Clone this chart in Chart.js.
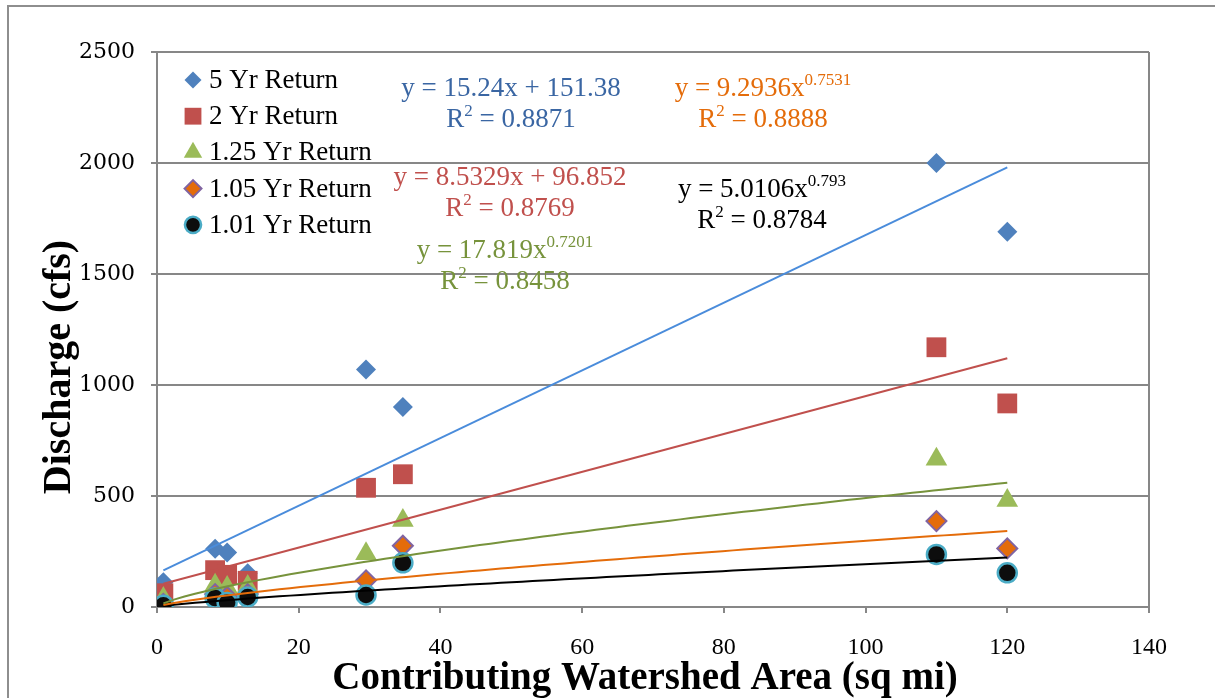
<!DOCTYPE html>
<html>
<head>
<meta charset="utf-8">
<title>Discharge vs Contributing Watershed Area</title>
<script src="https://cdn.jsdelivr.net/npm/chart.js@4.4.0/dist/chart.umd.min.js"></script>
<style>
  html, body { margin: 0; padding: 0; background: #fff; }
  #wrap { position: relative; width: 1215px; height: 698px; overflow: hidden; }
  #frame { position: absolute; left: 7px; top: 5px; width: 1300px; height: 800px;
           border: 2px solid #8e8e8e; pointer-events: none; }
</style>
</head>
<body>
<div id="wrap">
  <canvas id="chart" width="1215" height="698"></canvas>
  <div id="frame"></div>
</div>
<script>
// contributing watershed area of each gauge (sq mi)
const areas = [0.9, 8.2, 9.9, 12.8, 29.5, 34.7, 110, 120];

// discharge (cfs) per return period, same order as areas
const q5yr   = [112, 262, 245, 152, 1070, 901, 2000, 1690];
const q2yr   = [62, 166, 145, 118, 537, 598, 1170, 917];
const q125yr = [38, 98, 88, 92, 240, 390, 665, 480];
const q105yr = [14, 58, 45, 58, 120, 276, 387, 264];
const q101yr = [8, 40, 20, 45, 54, 199, 237, 154];

const seriesNames = ['5 Yr Return', '2 Yr Return', '1.25 Yr Return', '1.05 Yr Return', '1.01 Yr Return'];
const seriesValues = [q5yr, q2yr, q125yr, q105yr, q101yr];

// trendline fits (linear: y = a*x + b, power: y = a*x^b)
const fitTypes = ['linear', 'linear', 'power', 'power', 'power'];
const fitA = [15.24, 8.5329, 17.819, 9.2936, 5.0106];
const fitB = [151.38, 96.852, 0.7201, 0.7531, 0.793];
const fitR2 = ['0.8871', '0.8769', '0.8458', '0.8888', '0.8784'];

const xTickValues = [0, 20, 40, 60, 80, 100, 120, 140];
const yTickValues = [0, 500, 1000, 1500, 2000, 2500];

// look of each series
const markerStyle = [
  { pointStyle: 'rectRot', radius: 10, fill: '#4F81BD', stroke: '#4F81BD', width: 0 },
  { pointStyle: 'rect', radius: 14, fill: '#C0504D', stroke: '#C0504D', width: 0 },
  { pointStyle: 'triangle', radius: 12.5, fill: '#9BBB59', stroke: '#9BBB59', width: 0 },
  { pointStyle: 'rectRot', radius: 10, fill: '#E46C0A', stroke: '#8064A2', width: 2 },
  { pointStyle: 'circle', radius: 9.5, fill: '#0d0d0d', stroke: '#4BACC6', width: 2.5 }
];
const trendColors = ['#4A8CDB', '#C0504D', '#77933C', '#E46C0A', '#000000'];
const labelColors = ['#3A66A3', '#C0504D', '#77933C', '#E46C0A', '#000000'];
// equation label centre x, baseline of first line
const labelPos = [[511, 96], [510, 185], [505, 258], [763, 96], [762, 197]];

const GRID = '#878787';
const SERIF = '"Liberation Serif", "Times New Roman", serif';

function trendPoints(k) {
  const xmin = Math.min(...areas), xmax = Math.max(...areas);
  const pts = [];
  const n = fitTypes[k] === 'linear' ? 1 : 80;
  for (let i = 0; i <= n; i++) {
    const x = xmin + (xmax - xmin) * i / n;
    const y = fitTypes[k] === 'linear' ? fitA[k] * x + fitB[k] : fitA[k] * Math.pow(x, fitB[k]);
    pts.push({ x: x, y: y });
  }
  return pts;
}

const datasets = [];
seriesValues.forEach(function(vals, k) {
  const st = markerStyle[k];
  datasets.push({
    label: seriesNames[k],
    data: areas.map(function(x, i) { return { x: x, y: vals[i] }; }),
    showLine: false,
    pointStyle: st.pointStyle,
    pointRadius: st.radius,
    pointBackgroundColor: st.fill,
    pointBorderColor: st.stroke,
    pointBorderWidth: st.width,
    order: 10 - k
  });
});
seriesValues.forEach(function(vals, k) {
  datasets.push({
    label: seriesNames[k] + ' trend',
    data: trendPoints(k),
    showLine: true,
    pointRadius: 0,
    borderColor: trendColors[k],
    borderWidth: 2,
    tension: 0,
    order: 0
  });
});

function fmtEquation(k) {
  if (fitTypes[k] === 'linear') {
    return [['y = ' + fitA[k] + 'x + ' + fitB[k], false]];
  }
  return [['y = ' + fitA[k] + 'x', false], [String(fitB[k]), true]];
}

function drawRich(ctx, parts, cx, baseline, color) {
  const mainFont = '27px ' + SERIF;
  const supFont = '17px ' + SERIF;
  let w = 0;
  parts.forEach(function(p) {
    ctx.font = p[1] ? supFont : mainFont;
    w += ctx.measureText(p[0]).width;
  });
  let x = cx - w / 2;
  ctx.fillStyle = color;
  ctx.textAlign = 'left';
  ctx.textBaseline = 'alphabetic';
  parts.forEach(function(p) {
    ctx.font = p[1] ? supFont : mainFont;
    ctx.fillText(p[0], x, p[1] ? baseline - 11 : baseline);
    x += ctx.measureText(p[0]).width;
  });
}

const overlayPlugin = {
  id: 'overlay',
  afterDraw: function(chart) {
    const ctx = chart.ctx;
    ctx.save();

    // legend in the upper left of the plot
    seriesNames.forEach(function(name, k) {
      const st = markerStyle[k];
      const y = 80 + k * 36.2;
      ctx.fillStyle = st.fill;
      ctx.strokeStyle = st.stroke;
      ctx.lineWidth = st.width;
      Chart.helpers.drawPoint(ctx, {
        pointStyle: st.pointStyle, radius: st.radius * 0.85, rotation: 0, borderWidth: st.width
      }, 193, y);
      ctx.fillStyle = '#000';
      ctx.font = '27px ' + SERIF;
      ctx.textAlign = 'left';
      ctx.textBaseline = 'middle';
      ctx.fillText(name, 209, y + 1);
    });

    // trendline equations
    labelPos.forEach(function(p, k) {
      drawRich(ctx, fmtEquation(k), p[0], p[1], labelColors[k]);
      drawRich(ctx, [['R', false], ['2', true], [' = ' + fitR2[k], false]], p[0], p[1] + 31, labelColors[k]);
    });

    // axis titles
    ctx.fillStyle = '#000';
    ctx.font = 'bold 39px ' + SERIF;
    ctx.textAlign = 'center';
    ctx.textBaseline = 'alphabetic';
    ctx.fillText('Contributing Watershed Area (sq mi)', 645, 689);

    ctx.font = 'bold 40px ' + SERIF;
    ctx.translate(70, 367);
    ctx.rotate(-Math.PI / 2);
    ctx.fillText('Discharge (cfs)', 0, 0);
    ctx.restore();
  }
};

new Chart(document.getElementById('chart'), {
  type: 'scatter',
  data: { datasets: datasets },
  plugins: [overlayPlugin],
  options: {
    responsive: false,
    animation: false,
    layout: { padding: { left: 0, top: 52, right: 66, bottom: 0 } },
    plugins: {
      legend: { display: false },
      tooltip: { enabled: false }
    },
    scales: {
      x: {
        type: 'linear',
        min: xTickValues[0],
        max: xTickValues[xTickValues.length - 1],
        afterBuildTicks: function(scale) {
          scale.ticks = xTickValues.map(function(v) { return { value: v }; });
        },
        afterFit: function(scale) { scale.height = 91; },
        ticks: {
          color: '#000',
          padding: 20,
          maxRotation: 0,
          font: { family: SERIF, size: 24 },
          callback: function(v) { return String(v); }
        },
        grid: {
          color: function(c) { return c.tick && c.tick.value === 140 ? GRID : 'rgba(0,0,0,0)'; },
          tickColor: GRID,
          tickLength: 6,
          lineWidth: 2
        },
        border: { color: GRID, width: 2 }
      },
      y: {
        type: 'linear',
        min: yTickValues[0],
        max: yTickValues[yTickValues.length - 1],
        afterBuildTicks: function(scale) {
          scale.ticks = yTickValues.map(function(v) { return { value: v }; });
        },
        afterFit: function(scale) { scale.width = 157; },
        ticks: {
          color: '#000',
          padding: 16,
          font: { family: '"DejaVu Serif", serif', size: 22 },
          callback: function(v) { return String(v); }
        },
        grid: {
          color: GRID,
          tickColor: GRID,
          tickLength: 6,
          lineWidth: 2
        },
        border: { color: GRID, width: 2 }
      }
    }
  }
});
</script>
</body>
</html>
